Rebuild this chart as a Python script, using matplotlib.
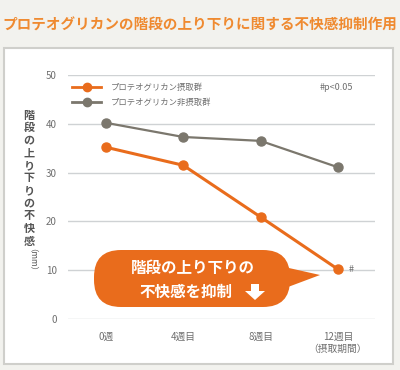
import matplotlib
matplotlib.use("Agg")
import matplotlib.pyplot as plt
from matplotlib.patches import FancyBboxPatch, Polygon, Rectangle

plt.rcParams["font.family"] = ["Noto Sans CJK JP", "DejaVu Sans"]

# Data
weeks = ["0週", "4週目", "8週目", "12週目\n（摂取期間）"]
intake = [35.2, 31.5, 20.9, 10.2]
no_intake = [40.2, 37.3, 36.5, 31.1]
series_names = ["プロテオグリカン摂取群", "プロテオグリカン非摂取群"]
y_ticks = [0, 10, 20, 30, 40, 50]

ORANGE = "#e96c1c"
GRAY = "#7b776d"
TEXT = "#6f6f6f"

W, H = 400, 370
fig = plt.figure(figsize=(W / 100, H / 100), dpi=100)
fig.patch.set_facecolor("#f2f2ee")


def pixel_axes(z):
    # full-figure axes in pixel units, origin top-left
    a = fig.add_axes([0, 0, 1, 1], zorder=z)
    a.set_xlim(0, W)
    a.set_ylim(H, 0)
    a.axis("off")
    a.patch.set_alpha(0)
    return a


bg = pixel_axes(0)
bg.add_patch(Rectangle((4, 48), 389, 316, facecolor="white",
                       edgecolor="#cfcfcb", linewidth=1.5))
bg.text(W / 2, 25, "プロテオグリカンの階段の上り下りに関する不快感抑制作用",
        ha="center", va="center", fontsize=10.5, fontweight="bold", color="#ef8a30")

ax = fig.add_axes([68 / W, 1 - 319 / H, (375 - 68) / W, (319 - 75) / H], zorder=1)
ax.set_facecolor("none")
x = list(range(len(weeks)))
ax.set_xlim(-0.49, 3.48)
ax.set_ylim(0, 50)
for s in ax.spines.values():
    s.set_visible(False)
ax.set_yticks(y_ticks)
ax.set_yticklabels([str(v) for v in y_ticks])
ax.yaxis.grid(True, color="#cfd2d4", linewidth=1.0)
ax.set_axisbelow(True)
ax.tick_params(axis="y", length=0, pad=8, labelsize=7, labelcolor=TEXT)
ax.set_xticks(x)
ax.set_xticklabels(weeks)
ax.tick_params(axis="x", length=0, pad=9, labelsize=7, labelcolor=TEXT)
for lab in ax.get_xticklabels():
    lab.set_linespacing(1.3)

ax.plot(x, no_intake, color=GRAY, linewidth=1.6, marker="o", markersize=6.5,
        clip_on=False, zorder=3)
ax.plot(x, intake, color=ORANGE, linewidth=2.2, marker="o", markersize=6.5,
        clip_on=False, zorder=4)

ov = pixel_axes(2)

# legend
for i, (name, col) in enumerate(zip(series_names, [ORANGE, GRAY])):
    ly = 87 + 15 * i
    ov.plot([72, 101], [ly, ly], color=col, linewidth=2.0)
    ov.plot([86.5], [ly], color=col, marker="o", markersize=6)
    ov.text(111, ly, name, ha="left", va="center", fontsize=6, color=TEXT)

ov.text(320, 87, "#p<0.05", ha="left", va="center", fontsize=6.5, color=TEXT)
ov.text(349, 270, "#", ha="left", va="center", fontsize=6.5, color=TEXT)

# y-axis label, written vertically one character at a time
ylab = "階段の上り下りの不快感"
for i, ch in enumerate(ylab):
    ov.text(29, 115 + 12.6 * i, ch, ha="center", va="center", fontsize=8,
            fontweight="bold", color="#555555")
ov.text(29, 264, "（mm）", ha="center", va="center", fontsize=6,
        color="#555555", rotation=-90)

# callout bubble
ov.add_patch(FancyBboxPatch((94, 250), 196, 57,
                            boxstyle="round,pad=0,rounding_size=27",
                            facecolor=ORANGE, edgecolor="none"))
ov.add_patch(Polygon([(280, 266), (320, 275), (280, 290)], closed=True,
                     facecolor=ORANGE, edgecolor="none"))
ov.text(193, 268, "階段の上り下りの", ha="center", va="center",
        fontsize=11.2, fontweight="bold", color="white")
ov.text(186, 292, "不快感を抑制", ha="center", va="center",
        fontsize=11.2, fontweight="bold", color="white")
ov.add_patch(Polygon([(251, 284), (259, 284), (259, 291), (265, 291),
                      (255, 300), (245, 291), (251, 291)],
                     closed=True, facecolor="white", edgecolor="none"))

fig.savefig("out.png", dpi=100, facecolor=fig.get_facecolor())
